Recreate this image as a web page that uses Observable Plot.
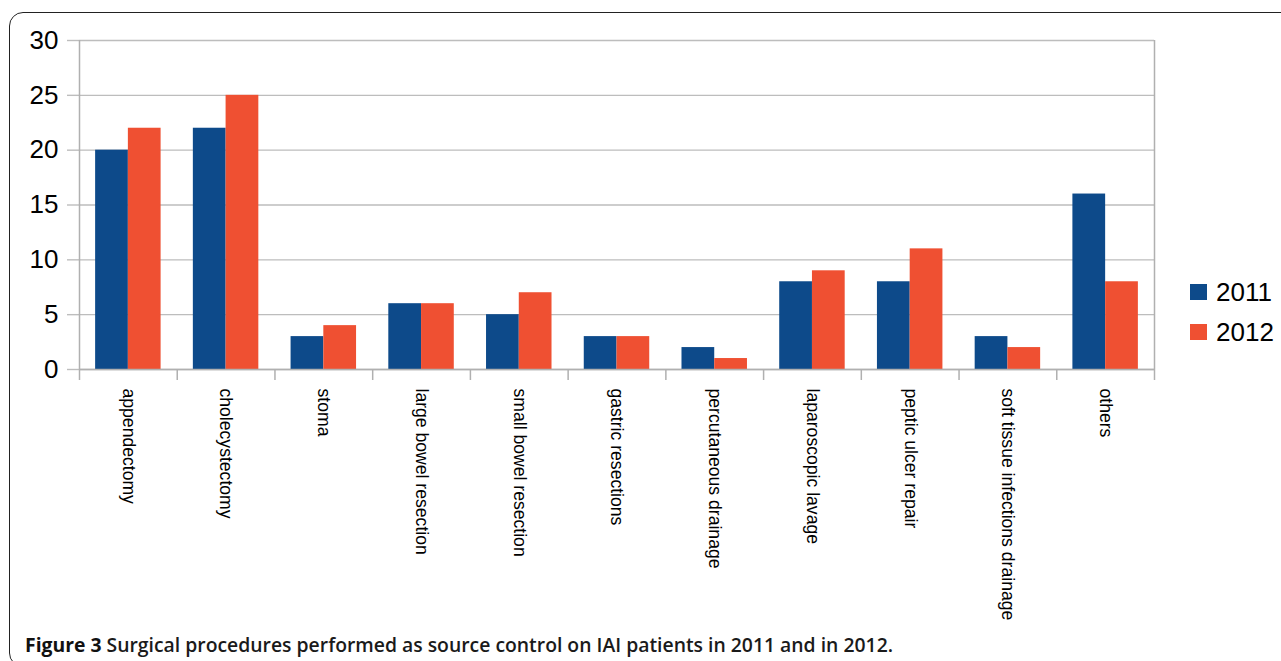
<!DOCTYPE html>
<html><head><meta charset="utf-8">
<script src="https://cdn.jsdelivr.net/npm/d3@7"></script>
<script src="https://cdn.jsdelivr.net/npm/@observablehq/plot@0.6"></script>
<style>
body{margin:0;background:#fff;width:1281px;height:661px;overflow:hidden;position:relative;font-family:"Liberation Sans",Arial,sans-serif}
#frame{position:absolute;left:9px;top:12px;width:1300px;height:655px;border:1.6px solid #222;border-radius:14px;box-sizing:border-box}
#chart{position:absolute;left:0;top:0}
#legend{position:absolute;left:1190px;top:272px}
.item{display:flex;align-items:center;height:40px;font-size:26px;color:#000}
.sw{width:17px;height:16px;margin-right:9px}
#caption{position:absolute;left:25px;top:631px;font-family:"Open Sans",sans-serif;font-size:20px;font-weight:600;color:#1a1a1a;white-space:nowrap;transform-origin:0 50%}
#caption b{font-weight:700;color:#111}
</style>
</head><body>
<div id="frame"></div>
<div id="chart"></div>
<div id="legend"></div>
<div id="caption"><b>Figure 3</b> Surgical procedures performed as source control on IAI patients in 2011 and in 2012.</div>
<script>
const categories = ["appendectomy","cholecystectomy","stoma","large bowel resection","small bowel resection","gastric resections","percutaneous drainage","laparoscopic lavage","peptic ulcer repair","soft tissue infections drainage","others"];
const series = ["2011","2012"];
const values2011 = [20,22,3,6,5,3,2,8,8,3,16];
const values2012 = [22,25,4,6,7,3,1,9,11,2,8];
const yTicks = [0,5,10,15,20,25,30];
const colors = ["#0d4a8a","#ef5032"];

const seriesValues = [values2011, values2012];
const rows = categories.flatMap((c,i)=>series.map((s,k)=>({cat:c,i,k,series:s,value:seriesValues[k][i]})));
const pad = 0.165, bw = (1-2*pad)/2;

const chart = Plot.plot({
  width:1281, height:630,
  marginLeft:79, marginRight:127, marginTop:40, marginBottom:261,
  style:{fontFamily:"Liberation Sans, Arial, sans-serif", color:"#000", background:"transparent", overflow:"visible"},
  x:{type:"linear", domain:[0,11]},
  y:{domain:[0,30]},
  color:{domain:series, range:colors},
  marks:[
    Plot.ruleY(yTicks, {stroke:"#bdbdbd", strokeWidth:1.4}),
    Plot.axisY({ticks:yTicks, tickSize:12, tickPadding:9, fontSize:26, stroke:"#bdbdbd", strokeWidth:1.4, tickFormat:d=>d, label:null}),
    Plot.ruleX([0,11], {stroke:"#b0b0b0", strokeWidth:1.5}),
    Plot.axisX({ticks:d3.range(12), tickSize:11, tickFormat:()=>"", stroke:"#b0b0b0", strokeWidth:1.5, label:null}),
    Plot.axisX({ticks:categories.map((c,i)=>i+0.5), tickFormat:v=>categories[Math.floor(v)], tickSize:0, tickPadding:19, tickRotate:90, fontSize:17.6, label:null}),
    Plot.rectY(rows, {x1:d=>d.i+pad+d.k*bw, x2:d=>d.i+pad+(d.k+1)*bw, y1:0, y2:"value", fill:"series"}),
    Plot.ruleY([0], {stroke:"#b0b0b0", strokeWidth:1.5})
  ]
});
document.getElementById("chart").appendChild(chart);

const legend = document.getElementById("legend");
series.forEach((s,k)=>{
  const it = document.createElement("div"); it.className="item";
  const sw = document.createElement("div"); sw.className="sw"; sw.style.background=colors[k];
  const t = document.createElement("span"); t.textContent=s;
  it.appendChild(sw); it.appendChild(t); legend.appendChild(it);
});

const cap = document.getElementById("caption");
const w = cap.getBoundingClientRect().width;
cap.style.transform = `scaleX(${868 / w})`;
</script>
</body></html>
